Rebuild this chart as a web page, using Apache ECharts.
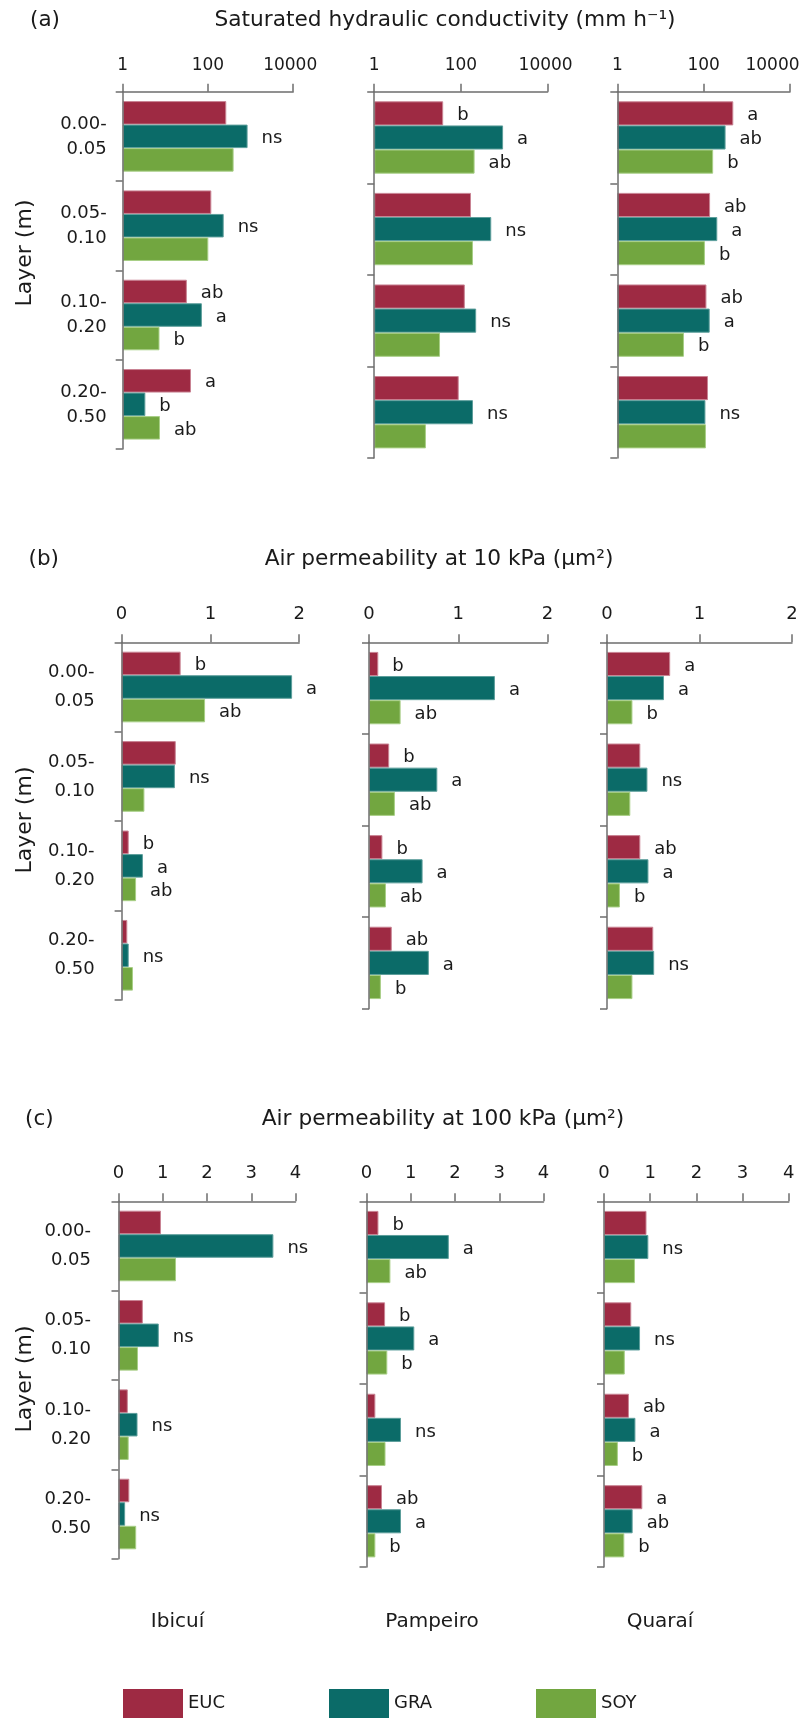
<!DOCTYPE html>
<html>
<head>
<meta charset="utf-8">
<script src="https://cdn.jsdelivr.net/npm/echarts@6/dist/echarts.min.js"></script>
<style>
  html, body { margin: 0; padding: 0; background: #ffffff; }
  #chart { width: 811px; height: 1719px; }
</style>
</head>
<body>
<div id="chart"></div>
<script>
// ---- data -------------------------------------------------------------
const layers = ['0.00-\n0.05', '0.05-\n0.10', '0.10-\n0.20', '0.20-\n0.50'];
const sites = ['Ibicuí', 'Pampeiro', 'Quaraí'];
const treatments = ['EUC', 'GRA', 'SOY'];

// Saturated hydraulic conductivity (mm h-1); one row per site, one value per layer
const ksatEUC = [[269, 120, 32, 40], [39, 171, 123, 89], [486, 141, 116, 126]];
const ksatGRA = [[851, 234, 72, 3.4], [940, 501, 225, 190], [322, 207, 138, 110]];
const ksatSOY = [[400, 102, 7.3, 7.5], [207, 190, 33, 15.6], [166, 107, 35, 113]];
const ksatTicks = [1, 100, 10000];
// letters per site -> layer -> [EUC, GRA, SOY]
const ksatLetters = [
  [['', 'ns', ''], ['', 'ns', ''], ['ab', 'a', 'b'], ['a', 'b', 'ab']],
  [['b', 'a', 'ab'], ['', 'ns', ''], ['', 'ns', ''], ['', 'ns', '']],
  [['a', 'ab', 'b'], ['ab', 'a', 'b'], ['ab', 'a', 'b'], ['', 'ns', '']]
];

// Air permeability at 10 kPa (µm²)
const ka10EUC = [[0.665, 0.61, 0.08, 0.064], [0.104, 0.226, 0.15, 0.255], [0.683, 0.36, 0.36, 0.50]];
const ka10GRA = [[1.92, 0.60, 0.24, 0.08], [1.41, 0.765, 0.60, 0.67], [0.616, 0.437, 0.448, 0.51]];
const ka10SOY = [[0.94, 0.257, 0.163, 0.128], [0.354, 0.29, 0.19, 0.133], [0.275, 0.252, 0.14, 0.275]];
const ka10Ticks = [0, 1, 2];
const ka10Letters = [
  [['b', 'a', 'ab'], ['', 'ns', ''], ['b', 'a', 'ab'], ['', 'ns', '']],
  [['b', 'a', 'ab'], ['b', 'a', 'ab'], ['b', 'a', 'ab'], ['ab', 'a', 'b']],
  [['a', 'a', 'b'], ['', 'ns', ''], ['ab', 'a', 'b'], ['', 'ns', '']]
];

// Air permeability at 100 kPa (µm²)
const ka100EUC = [[0.96, 0.55, 0.21, 0.245], [0.27, 0.42, 0.20, 0.35], [0.92, 0.59, 0.54, 0.83]];
const ka100GRA = [[3.50, 0.91, 0.43, 0.15], [1.86, 1.08, 0.78, 0.78], [0.96, 0.78, 0.68, 0.62]];
const ka100SOY = [[1.30, 0.44, 0.23, 0.40], [0.54, 0.47, 0.43, 0.20], [0.67, 0.45, 0.30, 0.44]];
const ka100Ticks = [0, 1, 2, 3, 4];
const ka100Letters = [
  [['', 'ns', ''], ['', 'ns', ''], ['', 'ns', ''], ['', 'ns', '']],
  [['b', 'a', 'ab'], ['b', 'a', 'b'], ['', 'ns', ''], ['ab', 'a', 'b']],
  [['', 'ns', ''], ['', 'ns', ''], ['ab', 'a', 'b'], ['a', 'ab', 'b']]
];

// ---- styling & layout ------------------------------------------------
const FONT = 'DejaVu Sans';
const INK = '#1a1a1a';
const AXIS = '#6e6e6e';
const COLORS = { EUC: '#9e2a43', GRA: '#0b6b68', SOY: '#72a640' };
const EDGES = { EUC: '#c98393', GRA: '#5c9e9b', SOY: '#a8cf86' };

const panels = [
  {
    tag: '(a)', title: 'Saturated hydraulic conductivity (mm h⁻¹)',
    values: [ksatEUC, ksatGRA, ksatSOY], letters: ksatLetters, ticks: ksatTicks, log: true,
    top: 91.7, tagX: 30, titleX: 445, titleY: 20, layerY: 253,
    tickFont: 17, tickMargin: 18, catMargin: 16, catLineHeight: 25, catPadding: [8, 0, 0, 0],
    // leftward nudge of the last tick label of each subplot, keeps it inside the page
    lastLabelShift: [3, 2, 17.5],
    grids: [[122.7, 170.5, 357.3], [374.2, 173.4, 366.3], [617.3, 172.7, 366.3]]
  },
  {
    tag: '(b)', title: 'Air permeability at 10 kPa (μm²)',
    values: [ka10EUC, ka10GRA, ka10SOY], letters: ka10Letters, ticks: ka10Ticks, log: false,
    top: 642.3, tagX: 28.5, titleX: 439, titleY: 559.5, layerY: 820,
    tickFont: 18, tickMargin: 19, catMargin: 27, catLineHeight: 29, catPadding: 0,
    lastLabelShift: [0, 0, 0],
    grids: [[121.6, 177.6, 357.7], [369, 178.6, 366.4], [607, 185, 366.4]]
  },
  {
    tag: '(c)', title: 'Air permeability at 100 kPa (μm²)',
    values: [ka100EUC, ka100GRA, ka100SOY], letters: ka100Letters, ticks: ka100Ticks, log: false,
    top: 1201.3, tagX: 25, titleX: 443, titleY: 1119, layerY: 1379,
    tickFont: 18, tickMargin: 19, catMargin: 27.5, catLineHeight: 29, catPadding: 0,
    lastLabelShift: [0, 0, 0],
    grids: [[118.5, 177, 357.4], [366.5, 177, 365.7], [604, 184.8, 365.7]]
  }
];

const siteLabelX = [177.5, 432, 660];
const siteLabelY = 1622;
const legendX = [123, 329, 536];
const legendTop = 1689;

// ---- build option ----------------------------------------------------
const grid = [], xAxis = [], yAxis = [], series = [], graphic = [];

function text(str, x, y, size, align, rotation) {
  return {
    type: 'text', x: x, y: y, rotation: rotation || 0, silent: true,
    style: { text: str, fontFamily: FONT, fontSize: size, fill: INK, align: align, verticalAlign: 'middle' }
  };
}

panels.forEach(function (p) {
  graphic.push(text(p.tag, p.tagX, p.titleY, 21.5, 'left'));
  graphic.push(text(p.title, p.titleX, p.titleY, 21.7, 'center'));
  graphic.push(text('Layer (m)', 25, p.layerY, 22, 'center', Math.PI / 2));

  p.grids.forEach(function (g, s) {
    const idx = grid.length;
    grid.push({
      left: g[0], top: p.top, width: g[1], height: g[2],
      containLabel: false, outerBoundsMode: 'none'
    });

    const maxTick = p.ticks[p.ticks.length - 1];
    const shift = p.lastLabelShift[s];
    const tickText = function (v) {
      const str = String(Math.round(v));
      return (Math.round(v) === maxTick && shift > 0) ? '{last|' + str + '}' : str;
    };

    const axisCommon = {
      gridIndex: idx,
      position: 'top',
      axisLine: { show: true, onZero: false, lineStyle: { color: AXIS, width: 1.5 } },
      axisTick: { show: true, inside: false, length: 8, lineStyle: { color: AXIS, width: 1.5 } },
      axisLabel: {
        fontFamily: FONT, fontSize: p.tickFont, color: INK, margin: p.tickMargin,
        formatter: tickText,
        rich: { last: { fontFamily: FONT, fontSize: p.tickFont, color: INK, padding: [0, 2 * shift, 0, 0] } }
      },
      splitLine: { show: false },
      minorTick: { show: false },
      z: 5
    };
    if (p.log) {
      xAxis.push(Object.assign({}, axisCommon, {
        type: 'log', logBase: 10, min: p.ticks[0], max: maxTick,
        axisTick: Object.assign({}, axisCommon.axisTick, { customValues: p.ticks }),
        axisLabel: Object.assign({}, axisCommon.axisLabel, { customValues: p.ticks })
      }));
    } else {
      xAxis.push(Object.assign({}, axisCommon, {
        type: 'value', min: p.ticks[0], max: maxTick, interval: 1
      }));
    }

    yAxis.push({
      type: 'category', gridIndex: idx, data: layers, inverse: true,
      axisLine: { show: true, onZero: false, lineStyle: { color: AXIS, width: 1.5 } },
      axisTick: { show: true, length: 7, interval: 0, lineStyle: { color: AXIS, width: 1.5 } },
      axisLabel: {
        show: s === 0, interval: 0, fontFamily: FONT, fontSize: 18, color: INK,
        margin: p.catMargin, lineHeight: p.catLineHeight, align: 'right', padding: p.catPadding
      },
      splitLine: { show: false },
      z: 5
    });

    treatments.forEach(function (t, ti) {
      series.push({
        type: 'bar', name: t, xAxisIndex: idx, yAxisIndex: idx,
        data: p.values[ti][s],
        barGap: '0%', barCategoryGap: '21%',
        itemStyle: { color: COLORS[t], borderColor: EDGES[t], borderWidth: 1 },
        label: {
          show: true, position: 'right', distance: 14, offset: [0, 2],
          fontFamily: FONT, fontSize: 18, color: INK,
          formatter: function (params) { return p.letters[s][params.dataIndex][ti]; }
        },
        silent: true
      });
    });
  });
});

sites.forEach(function (name, i) {
  graphic.push(text(name, siteLabelX[i], siteLabelY, 20, 'center'));
});

const legend = treatments.map(function (t, i) {
  return {
    data: [t], left: legendX[i], top: legendTop, padding: 0,
    icon: 'rect', itemWidth: 60, itemHeight: 29, selectedMode: false,
    itemStyle: { borderWidth: 0 },
    textStyle: { fontFamily: FONT, fontSize: 18, color: INK }
  };
});

const chart = echarts.init(document.getElementById('chart'), null, { renderer: 'canvas' });
chart.setOption({
  animation: false,
  backgroundColor: '#ffffff',
  textStyle: { fontFamily: FONT },
  grid: grid, xAxis: xAxis, yAxis: yAxis, series: series,
  legend: legend, graphic: graphic
});
</script>
</body>
</html>
